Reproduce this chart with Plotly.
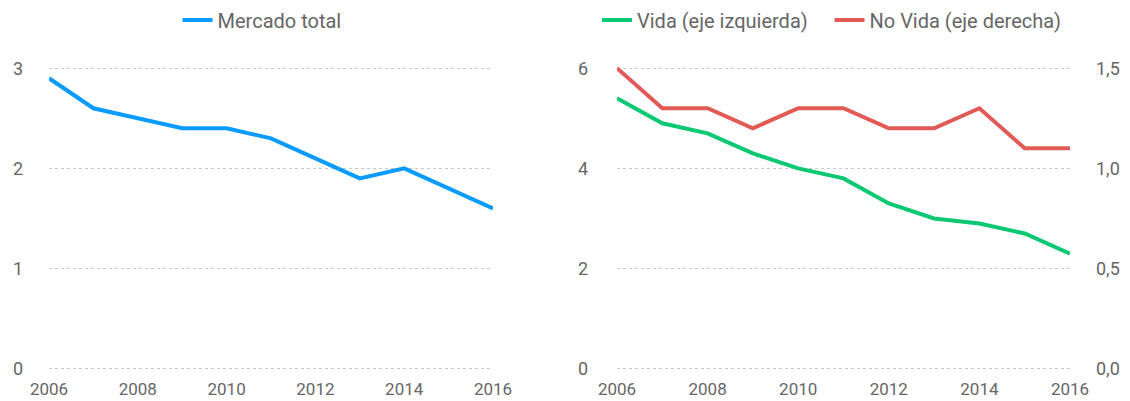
import plotly.graph_objects as go

years = list(range(2006, 2017))
mercado_total = [2.9, 2.6, 2.5, 2.4, 2.4, 2.3, 2.1, 1.9, 2.0, 1.8, 1.6]
vida = [5.4, 4.9, 4.7, 4.3, 4.0, 3.8, 3.3, 3.0, 2.9, 2.7, 2.3]
no_vida = [1.5, 1.3, 1.3, 1.2, 1.3, 1.3, 1.2, 1.2, 1.3, 1.1, 1.1]
x_ticks = [2006, 2008, 2010, 2012, 2014, 2016]

BLUE = "#0a9bff"
GREEN = "#0cc873"
RED = "#e15a55"
GRAY = "#666666"
FONT = "Roboto"

fig = go.Figure()
fig.add_trace(go.Scatter(x=years, y=mercado_total, mode="lines", name="Mercado total",
                         line=dict(color=BLUE, width=4), xaxis="x", yaxis="y",
                         legend="legend", cliponaxis=False, showlegend=True))
fig.add_trace(go.Scatter(x=years, y=vida, mode="lines", name="Vida (eje izquierda)",
                         line=dict(color=GREEN, width=4), xaxis="x2", yaxis="y2",
                         legend="legend2", cliponaxis=False, showlegend=True))
fig.add_trace(go.Scatter(x=years, y=no_vida, mode="lines", name="No Vida (eje derecha)",
                         line=dict(color=RED, width=4), xaxis="x2", yaxis="y3",
                         legend="legend3", cliponaxis=False, showlegend=True))

# page has an 8px body margin; figure fills the rest of the 1130x401 window
OFF = 8
W, H = 1130 - OFF, 401 - OFF
ml, mr, mt, mb = 49 - OFF, W - (1070 - OFF), 67 - OFF, H - (370 - OFF)
pw = W - ml - mr

def dom(a, b):
    return [(a - 49) / pw, (b - 49) / pw]

pad = 0.004
xcommon = dict(range=[2006, 2016], tickvals=x_ticks, showgrid=False, zeroline=False,
               showline=False, ticks="", tickfont=dict(size=17, color=GRAY, family=FONT),
               ticklabelstandoff=7, fixedrange=True, automargin=False)
ycommon = dict(showgrid=True, gridcolor="#c8c8c8", griddash="dot", gridwidth=1,
               zeroline=False, showline=False, ticks="", automargin=False,
               tickfont=dict(size=18, color=GRAY, family=FONT), fixedrange=True)

def leg(center):
    return dict(orientation="h", xref="container", x=(center - OFF) / W, xanchor="center",
                yref="container", y=1 - (20 - OFF) / H, yanchor="middle",
                font=dict(size=20, color=GRAY, family=FONT), bgcolor="rgba(0,0,0,0)")

fig.update_layout(
    width=W, height=H,
    margin=dict(l=ml, r=mr, t=mt, b=mb, autoexpand=False),
    paper_bgcolor="white", plot_bgcolor="white",
    separators=",.",
    showlegend=True,
    font=dict(family=FONT, color=GRAY),
    xaxis=dict(domain=dom(49, 493), anchor="y", **xcommon),
    xaxis2=dict(domain=dom(617, 1070), anchor="y2", **xcommon),
    yaxis=dict(range=[-3 * pad, 3 * (1 + pad)], tickvals=[0, 1, 2, 3], anchor="x",
               ticklabelstandoff=25, **ycommon),
    yaxis2=dict(range=[-6 * pad, 6 * (1 + pad)], tickvals=[0, 2, 4, 6], anchor="x2",
                ticklabelstandoff=28, **ycommon),
    yaxis3=dict(range=[-1.5 * pad, 1.5 * (1 + pad)], tickvals=[0, 0.5, 1.0, 1.5], tickformat=".1f",
                overlaying="y2", side="right", anchor="x2", ticklabelstandoff=25,
                **{**ycommon, "showgrid": False}),
    legend=leg(262),
    legend2=leg(705),
    legend3=leg(948),
)

fig.write_html("out.html")
